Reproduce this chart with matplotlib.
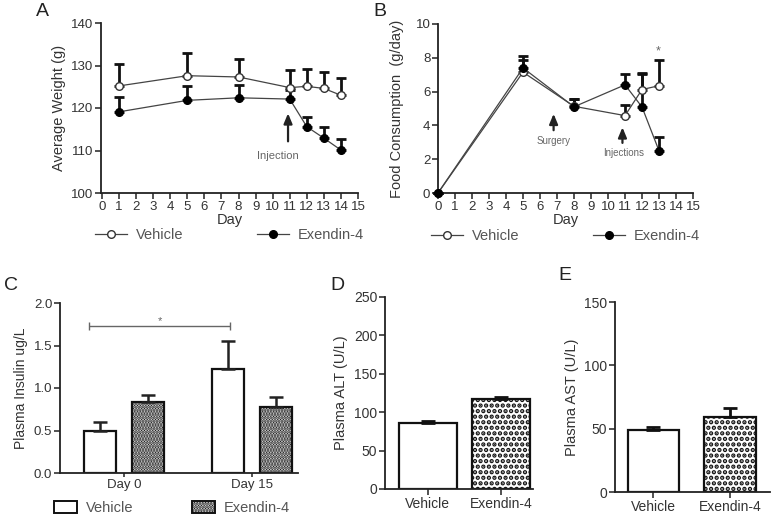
import numpy as np
import matplotlib
matplotlib.use("Agg")
import matplotlib.pyplot as plt
from matplotlib.lines import Line2D
from matplotlib.patches import Patch

plt.rcParams['font.family'] = ['Liberation Sans', 'DejaVu Sans']
plt.rcParams['hatch.linewidth'] = 1.6

# panel A: body weight
days_a = [1, 5, 8, 11, 12, 13, 14]
veh_w = [125.2, 127.6, 127.3, 124.8, 125.1, 124.6, 123.0]
veh_w_err = [5.2, 5.3, 4.2, 4.2, 4.1, 3.9, 4.1]
exe_w = [119.1, 121.8, 122.4, 122.1, 115.6, 112.9, 110.1]
exe_w_err = [3.5, 3.3, 3.0, 2.2, 2.4, 2.6, 2.6]

# panel B: food consumption
days_b = [0, 5, 8, 11, 12, 13]
veh_f = [0.0, 7.15, 5.13, 4.58, 6.12, 6.35]
veh_f_err = [0.0, 0.7, 0.42, 0.6, 0.95, 1.5]
exe_f = [0.0, 7.4, 5.1, 6.4, 5.09, 2.5]
exe_f_err = [0.0, 0.7, 0.45, 0.62, 2.0, 0.8]

# panel C: plasma insulin
groups_c = ["Day 0", "Day 15"]
veh_ins = [0.5, 1.22]
veh_ins_err = [0.1, 0.33]
exe_ins = [0.83, 0.78]
exe_ins_err = [0.09, 0.11]

# panels D / E: liver enzymes
cats = ["Vehicle", "Exendin-4"]
alt = [86, 117.5]
alt_err = [2, 2.5]
ast = [48.7, 59.2]
ast_err = [2.6, 7.0]

W, H = 771, 517
fig = plt.figure(figsize=(W / 100, H / 100), dpi=100)


def add_ax(left, top, right, bottom):
    return fig.add_axes([left / W, 1 - bottom / H, (right - left) / W, (bottom - top) / H])


def style(ax):
    for s in ["top", "right"]:
        ax.spines[s].set_visible(False)
    for s in ["left", "bottom"]:
        ax.spines[s].set_linewidth(1.3)
        ax.spines[s].set_color("#222222")
    ax.tick_params(direction="out", length=4, width=1.1, colors="#222222",
                   labelsize=9.5, labelcolor="#333333", pad=1.5)


txt = "#333333"
line_handles = [
    Line2D([], [], color="#444444", lw=0.9, marker="o", ms=5.5, mfc="white", mec="#333333"),
    Line2D([], [], color="#444444", lw=0.9, marker="o", ms=5.5, mfc="black", mec="black"),
]
err_style = dict(elinewidth=2, ecolor="#111111", capsize=3.5, capthick=2)

# ---- A
ax = add_ax(101, 23, 358, 193)
ax.errorbar(days_a, veh_w, yerr=[np.zeros(7), veh_w_err], fmt="-o", color="#444444",
            mfc="white", mec="#333333", ms=5.5, lw=0.9, zorder=3, **err_style)
ax.errorbar(days_a, exe_w, yerr=[np.zeros(7), exe_w_err], fmt="-o", color="#444444",
            mfc="black", mec="black", ms=5.5, lw=0.9, zorder=3, **err_style)
ax.set_xlim(-0.06, 15)
ax.set_ylim(100, 140)
ax.set_xticks(range(16))
ax.set_yticks([100, 110, 120, 130, 140])
style(ax)
ax.set_xlabel("Day", fontsize=10.5, color=txt, labelpad=0)
ax.set_ylabel("Average Weight (g)", fontsize=10.5, color=txt, labelpad=4)
ax.annotate("", xy=(10.9, 119.4), xytext=(10.9, 111.5),
            arrowprops=dict(arrowstyle="-|>,head_width=0.25,head_length=0.6", color="#222222", lw=1.6))
ax.text(10.3, 108.6, "Injection", fontsize=8, color="#666666", ha="center", va="center")
ax.legend(line_handles, ["Vehicle", "Exendin-4"], loc="upper center", bbox_to_anchor=(0.5, -0.17),
          ncol=2, frameon=False, fontsize=10.5, labelcolor="#555555", columnspacing=5,
          handlelength=2.2, handletextpad=0.6, borderaxespad=0)
fig.text(36 / W, 1 - 12 / H, "A", fontsize=14, va="center", color="#222222")

# ---- B
ax = add_ax(438, 24, 693, 193)
ax.errorbar(days_b, veh_f, yerr=[np.zeros(6), veh_f_err], fmt="-o", color="#444444",
            mfc="white", mec="#333333", ms=5.5, lw=0.9, zorder=3, clip_on=False, **err_style)
ax.errorbar(days_b, exe_f, yerr=[np.zeros(6), exe_f_err], fmt="-o", color="#444444",
            mfc="black", mec="black", ms=5.5, lw=0.9, zorder=3, clip_on=False, **err_style)
ax.set_xlim(0, 15)
ax.set_ylim(0, 10)
ax.set_xticks(range(16))
ax.set_yticks([0, 2, 4, 6, 8, 10])
style(ax)
ax.set_xlabel("Day", fontsize=10.5, color=txt, labelpad=0)
ax.set_ylabel("Food Consumption  (g/day)", fontsize=10.5, color=txt, labelpad=8)
ax.annotate("", xy=(6.8, 4.85), xytext=(6.8, 3.55),
            arrowprops=dict(arrowstyle="-|>,head_width=0.25,head_length=0.6", color="#222222", lw=1.6))
ax.text(6.8, 3.1, "Surgery", fontsize=7, color="#666666", ha="center", va="center")
ax.annotate("", xy=(10.85, 4.05), xytext=(10.85, 2.8),
            arrowprops=dict(arrowstyle="-|>,head_width=0.25,head_length=0.6", color="#222222", lw=1.6))
ax.text(10.9, 2.35, "Injections", fontsize=7, color="#666666", ha="center", va="center")
ax.text(12.95, 8.35, "*", fontsize=9, color="#666666", ha="center", va="center")
ax.legend(line_handles, ["Vehicle", "Exendin-4"], loc="upper center", bbox_to_anchor=(0.5, -0.18),
          ncol=2, frameon=False, fontsize=10.5, labelcolor="#555555", columnspacing=5,
          handlelength=2.2, handletextpad=0.6, borderaxespad=0)
fig.text(373 / W, 1 - 12 / H, "B", fontsize=14, va="center", color="#222222")

# ---- C
ax = add_ax(60, 303, 298, 473)
x = np.arange(len(groups_c))
off, bw = 0.19, 0.25
bar_err = dict(elinewidth=1.8, capsize=5, capthick=1.8, ecolor="#222222")
ax.bar(x - off, veh_ins, bw, color="white", edgecolor="#111111", lw=1.6,
       yerr=[np.zeros(2), veh_ins_err], error_kw=bar_err)
plt.rcParams['hatch.color'] = "#888888"
ax.bar(x + off, exe_ins, bw, color="white", edgecolor="#111111", lw=1.6, hatch="......",
       yerr=[np.zeros(2), exe_ins_err], error_kw=bar_err)
ax.set_xlim(-0.5, 1.36)
ax.set_ylim(0, 2)
ax.set_xticks(x)
ax.set_xticklabels(groups_c, fontsize=9.5, color=txt)
ax.set_yticks([0, 0.5, 1.0, 1.5, 2.0])
ax.set_yticklabels(["0.0", "0.5", "1.0", "1.5", "2.0"])
style(ax)
ax.tick_params(axis="x", length=3)
ax.set_ylabel("Plasma Insulin ug/L", fontsize=10, color=txt, labelpad=4)
ax.errorbar([0.28], [1.73], xerr=[[0.55], [0.55]], fmt="none", ecolor="#666666",
            elinewidth=1, capsize=3, capthick=1)
ax.text(0.28, 1.79, "*", fontsize=8, color="#666666", ha="center", va="center")
bar_handles = [Patch(facecolor="white", edgecolor="#111111", lw=1.4),
               Patch(facecolor="white", edgecolor="#111111", lw=1.4, hatch="......")]
ax.legend(bar_handles, ["Vehicle", "Exendin-4"], loc="upper center", bbox_to_anchor=(0.47, -0.13),
          ncol=2, frameon=False, fontsize=10.5, labelcolor="#555555", columnspacing=4,
          handlelength=1.6, handleheight=0.9, handletextpad=0.6, borderaxespad=0)
fig.text(4 / W, 1 - 285 / H, "C", fontsize=14, va="center", color="#222222")

# ---- D
plt.rcParams['hatch.color'] = "black"
plt.rcParams['hatch.linewidth'] = 2.2
ax = add_ax(385, 297, 533, 489)
xc = np.arange(len(cats))
ax.bar(xc, alt, 0.79, color="white", edgecolor="#111111", lw=1.6, hatch=[None, "..."],
       yerr=[np.zeros(2), alt_err], error_kw=dict(elinewidth=2, capsize=5, capthick=2, ecolor="#111111"))
ax.set_xlim(-0.58, 1.43)
ax.set_ylim(0, 250)
ax.set_xticks(xc)
ax.set_xticklabels(cats, fontsize=10, color=txt)
ax.set_yticks([0, 50, 100, 150, 200, 250])
style(ax)
ax.tick_params(labelsize=10)
ax.set_ylabel("Plasma ALT (U/L)", fontsize=10.5, color=txt, labelpad=4)
fig.text(330 / W, 1 - 285 / H, "D", fontsize=14, va="center", color="#222222")

# ---- E
ax = add_ax(615, 302, 770, 492)
ax.bar(xc, ast, 0.67, color="white", edgecolor="#111111", lw=1.6, hatch=[None, "..."],
       yerr=[np.zeros(2), ast_err], error_kw=dict(elinewidth=2, capsize=5, capthick=2, ecolor="#111111"))
ax.set_xlim(-0.5, 1.52)
ax.set_ylim(0, 150)
ax.set_xticks(xc)
ax.set_xticklabels(cats, fontsize=10, color=txt)
ax.set_yticks([0, 50, 100, 150])
style(ax)
ax.tick_params(labelsize=10)
ax.set_ylabel("Plasma AST (U/L)", fontsize=10.5, color=txt, labelpad=4)
fig.text(558 / W, 1 - 275 / H, "E", fontsize=14, va="center", color="#222222")

fig.savefig("out.png", dpi=100)
